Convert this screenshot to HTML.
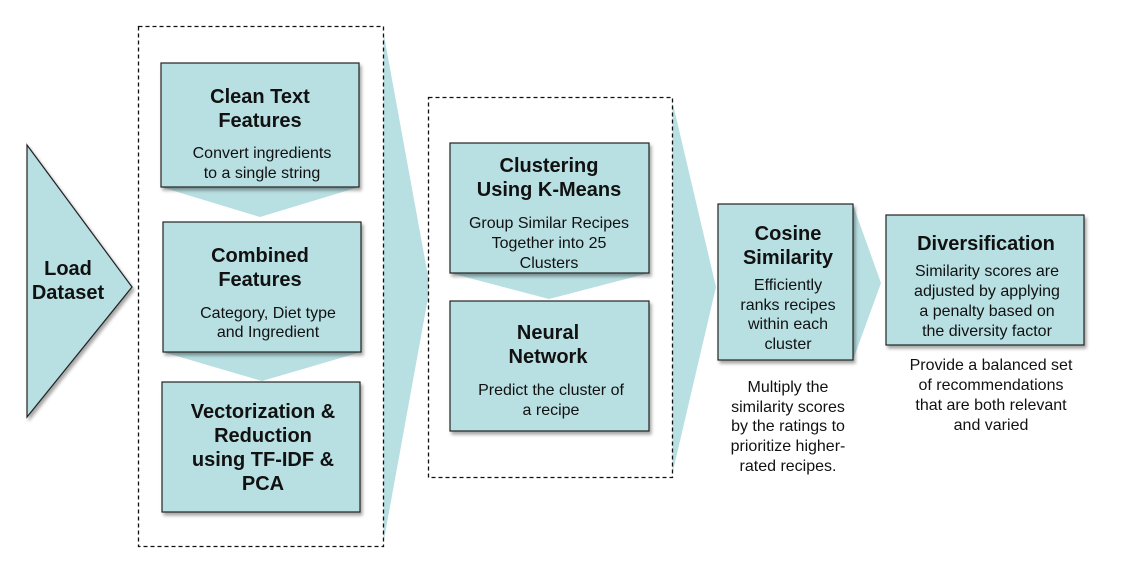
<!DOCTYPE html>
<html><head><meta charset="utf-8"><style>
html,body{margin:0;padding:0;background:#fff;}
svg{display:block;}
text{font-family:"Liberation Sans",Arial,sans-serif;text-anchor:middle;fill:#111;}
.t{font-weight:bold;font-size:20px;}
.b{font-size:16px;}
</style></head><body>
<svg width="1121" height="573" viewBox="0 0 1121 573" xmlns="http://www.w3.org/2000/svg">
<defs>
<filter id="sh" x="-10%" y="-10%" width="130%" height="130%"><feDropShadow dx="2" dy="3" stdDeviation="1.5" flood-color="#000" flood-opacity="0.35"/></filter>
</defs>
<polygon points="383,30 430,287 383,545" fill="#b8dfe2"/>
<polygon points="672,100 716,287 672,475" fill="#b8dfe2"/>
<polygon points="853,205 881,283 853,360" fill="#b8dfe2"/>
<rect x="138.5" y="26.5" width="245" height="520" fill="#fff" stroke="#111" stroke-dasharray="4,3" stroke-width="1.3"/>
<rect x="428.5" y="97.5" width="244" height="380" fill="#fff" stroke="#111" stroke-dasharray="4,3" stroke-width="1.3"/>
<polygon points="27,145 132,287 27,417" fill="#b8dfe2" stroke="#222" stroke-width="1.2" filter="url(#sh)"/>
<text class="t" x="68" y="275">Load</text>
<text class="t" x="68" y="299">Dataset</text>
<polygon points="161,187 359,187 260,217" fill="#b8dfe2"/>
<polygon points="163,352 361,352 262,381" fill="#b8dfe2"/>
<polygon points="450,273 649,273 549,299" fill="#b8dfe2"/>
<g fill="#b8dfe2" stroke="#222" stroke-width="1.2" filter="url(#sh)">
<rect x="161" y="63" width="198" height="124"/>
<rect x="163" y="222" width="198" height="130"/>
<rect x="162" y="382" width="198" height="130"/>
<rect x="450" y="143" width="199" height="130"/>
<rect x="450" y="301" width="199" height="130"/>
<rect x="718" y="204" width="135" height="156"/>
<rect x="886" y="215" width="198" height="130"/>
</g>
<text class="t" x="260" y="103">Clean Text</text>
<text class="t" x="260" y="127">Features</text>
<text class="b" x="262" y="158">Convert ingredients</text>
<text class="b" x="262" y="178">to a single string</text>
<text class="t" x="260" y="262">Combined</text>
<text class="t" x="260" y="286">Features</text>
<text class="b" x="268" y="318">Category, Diet type</text>
<text class="b" x="268" y="337">and Ingredient</text>
<text class="t" x="263" y="418">Vectorization &amp;</text>
<text class="t" x="263" y="442">Reduction</text>
<text class="t" x="263" y="466">using TF-IDF &amp;</text>
<text class="t" x="263" y="490">PCA</text>
<text class="t" x="549" y="172">Clustering</text>
<text class="t" x="549" y="196">Using K-Means</text>
<text class="b" x="549" y="228">Group Similar Recipes</text>
<text class="b" x="549" y="248">Together into 25</text>
<text class="b" x="549" y="268">Clusters</text>
<text class="t" x="548" y="339">Neural</text>
<text class="t" x="548" y="363">Network</text>
<text class="b" x="551" y="395">Predict the cluster of</text>
<text class="b" x="551" y="415">a recipe</text>
<text class="t" x="788" y="240">Cosine</text>
<text class="t" x="788" y="264">Similarity</text>
<text class="b" x="788" y="290">Efficiently</text>
<text class="b" x="788" y="310">ranks recipes</text>
<text class="b" x="788" y="329">within each</text>
<text class="b" x="788" y="349">cluster</text>
<text class="b" x="788" y="392">Multiply the</text>
<text class="b" x="788" y="412">similarity scores</text>
<text class="b" x="788" y="431">by the ratings to</text>
<text class="b" x="788" y="451">prioritize higher-</text>
<text class="b" x="788" y="471">rated recipes.</text>
<text class="t" x="986" y="250">Diversification</text>
<text class="b" x="987" y="276">Similarity scores are</text>
<text class="b" x="987" y="296">adjusted by applying</text>
<text class="b" x="987" y="316">a penalty based on</text>
<text class="b" x="987" y="336">the diversity factor</text>
<text class="b" x="991" y="370">Provide a balanced set</text>
<text class="b" x="991" y="390">of recommendations</text>
<text class="b" x="991" y="410">that are both relevant</text>
<text class="b" x="991" y="430">and varied</text>
</svg>
</body></html>
